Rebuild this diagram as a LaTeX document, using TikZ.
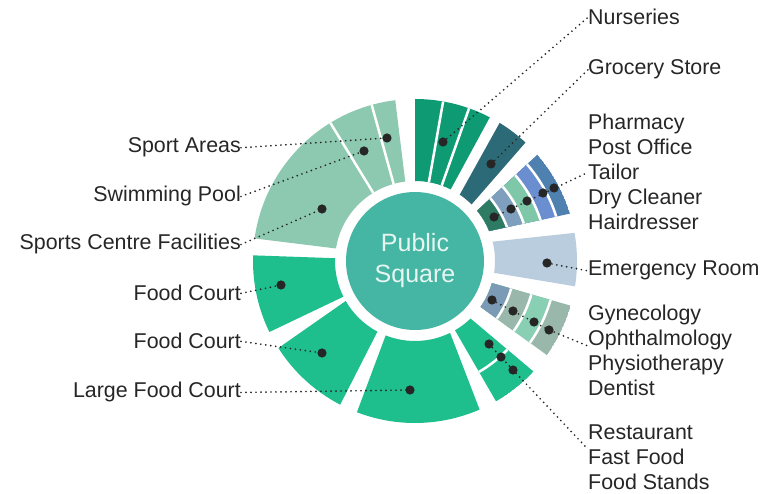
\documentclass[tikz,border=0pt]{standalone}
\usepackage{fontspec}
\setmainfont{Liberation Sans}
\usepackage{xcolor}
\usetikzlibrary{positioning}

\definecolor{sportgreen}{HTML}{8DC9B1}
\definecolor{nursgreen}{HTML}{0E9A73}
\definecolor{grocteal}{HTML}{2C6A77}
\definecolor{svdark}{HTML}{2E7B63}
\definecolor{svslate}{HTML}{7F9FBE}
\definecolor{svmint}{HTML}{7EC8A9}
\definecolor{svblue}{HTML}{6B8ED0}
\definecolor{svsteel}{HTML}{4E80B0}
\definecolor{emerblue}{HTML}{BACDDF}
\definecolor{medblue}{HTML}{7B9AB6}
\definecolor{medgray}{HTML}{9AB7AC}
\definecolor{medmint}{HTML}{89CFB4}
\definecolor{foodgreen}{HTML}{1FBE8D}
\definecolor{squareteal}{HTML}{45B6A3}
\definecolor{squaretext}{HTML}{E8F6F2}
\definecolor{labelgray}{HTML}{262626}

\newcommand{\rin}{80}
\newcommand{\rout}{162}
% ring block: inner arc #2..#3, outer arc #4..#5
\newcommand{\ringblock}[5]{%
  \fill[#1] (#2:\rin) arc[start angle=#2, end angle=#3, radius=\rin]
    -- (#5:\rout) arc[start angle=#5, end angle=#4, radius=\rout] -- cycle;}
\newcommand{\ringclip}[4]{%
  \clip (#1:\rin) arc[start angle=#1, end angle=#2, radius=\rin]
    -- (#4:\rout) arc[start angle=#4, end angle=#3, radius=\rout] -- cycle;}

\begin{document}
\begin{tikzpicture}[x=1pt, y=1pt,
    every node/.style={font=\fontsize{21.4}{25}\selectfont, text=labelgray, inner sep=0pt},
    itemtext/.style={anchor=base west},
    itemleft/.style={anchor=base east},
    leader/.style={draw=labelgray, line width=1.9pt, dash pattern=on 0pt off 5pt, line cap=round},
    divider/.style={draw=white, line width=2.5pt}]
  \useasboundingbox (-415,-233) rectangle (345,261);

  % ---------- SPORTS ----------
  \ringblock{sportgreen}{97}{171}{97}{172}
  \foreach \a in {105.5,121.5} \draw[divider] (\a:\rin) -- (\a:\rout);

  % ---------- FOOD COURTS ----------
  \ringblock{foodgreen}{178}{206.5}{178}{206}
  \ringblock{foodgreen}{210}{242}{212.5}{242.5}
  \ringblock{foodgreen}{248.5}{296}{249}{293.5}

  % ---------- FOOD STANDS ----------
  \begin{scope}
    \ringclip{-60}{-46}{-60}{-43}
    \fill[foodgreen] (0,0) circle (\rout);
    \draw[divider] (0,0) circle (128);
  \end{scope}

  % ---------- MEDICAL ----------
  \begin{scope}
    \ringclip{-35}{-16}{-35.5}{-16}
    \fill[medgray] (0,0) circle (\rout);
    \fill[medmint] (0,0) circle (141);
    \fill[medgray] (0,0) circle (121);
    \fill[medblue] (0,0) circle (100);
    \foreach \r in {100,121,141} \draw[divider] (0,0) circle (\r);
  \end{scope}

  % ---------- EMERGENCY ----------
  \ringblock{emerblue}{-8.5}{14}{-9}{10}

  % ---------- SERVICES ----------
  \begin{scope}
    \ringclip{22}{39}{17}{41}
    \fill[svsteel] (0,0) circle (\rout);
    \fill[svblue] (0,0) circle (148);
    \fill[svmint] (0,0) circle (132);
    \fill[svslate] (0,0) circle (115);
    \fill[svdark] (0,0) circle (98);
    \foreach \r in {98,115,132,148} \draw[divider] (0,0) circle (\r);
  \end{scope}

  % ---------- GROCERY + NURSERIES ----------
  \ringblock{grocteal}{45}{56}{47}{58.5}
  \ringblock{nursgreen}{63.5}{90}{62.5}{90}
  \foreach \a in {80,70.5} \draw[divider] (\a:\rin) -- (\a:\rout);

  % ---------- CENTRE ----------
  \node[circle, fill=squareteal, minimum size=138, align=center, text=squaretext,
        font=\fontsize{25}{31}\selectfont] (square) at (0,0) {Public\\Square};

  % ---------- LABELS ----------
  \node[itemtext] (nurs)   at (173,236)  {Nurseries};
  \node[itemtext] (groc)   at (173,186)  {Grocery Store};
  \node[itemtext] (pharm)  at (173,131)  {Pharmacy};
  \node[itemtext] (post)   at (173,106)  {Post Office};
  \node[itemtext] (tailor) at (173,81)   {Tailor};
  \node[itemtext] (dry)    at (173,56)   {Dry Cleaner};
  \node[itemtext] (hair)   at (173,31)   {Hairdresser};
  \node[itemtext] (emer)   at (173,-15)  {Emergency Room};
  \node[itemtext] (gyn)    at (173,-60)  {Gynecology};
  \node[itemtext] (ophth)  at (173,-85)  {Ophthalmology};
  \node[itemtext] (physio) at (173,-110) {Physiotherapy};
  \node[itemtext] (dent)   at (173,-135) {Dentist};
  \node[itemtext] (rest)   at (173,-179) {Restaurant};
  \node[itemtext] (fast)   at (173,-204) {Fast Food};
  \node[itemtext] (stands) at (173,-229) {Food Stands};

  \node[itemleft] (sportar) at (-174,108)  {Sport Areas};
  \node[itemleft] (swim)    at (-174,59)   {Swimming Pool};
  \node[itemleft] (centre)  at (-174,11)   {Sports Centre Facilities};
  \node[itemleft] (fcourta) at (-174,-40)  {Food Court};
  \node[itemleft] (fcourtb) at (-174,-88)  {Food Court};
  \node[itemleft] (largefc) at (-174,-137) {Large Food Court};

  % ---------- DOTS ----------
  \coordinate (dSportar) at (-28,123);
  \coordinate (dSwim)    at (-51,110);
  \coordinate (dCentre)  at (-93,52);
  \coordinate (dFca)     at (-134,-24);
  \coordinate (dFcb)     at (-93,-92);
  \coordinate (dLarge)   at (-5,-129);
  \coordinate (dNurs)    at (28,119);
  \coordinate (dGroc)    at (76,97);
  \coordinate (dSv1) at (79,44);
  \coordinate (dSv2) at (96,52);
  \coordinate (dSv3) at (112,60);
  \coordinate (dSv4) at (128,68);
  \coordinate (dSv5) at (139,73);
  \coordinate (dEmer)    at (132,-2);
  \coordinate (dMd1) at (77,-39);
  \coordinate (dMd2) at (98,-50);
  \coordinate (dMd3) at (119,-61);
  \coordinate (dMd4) at (134,-69);
  \coordinate (dFs1) at (74,-83);
  \coordinate (dFs2) at (86,-96);
  \coordinate (dFs3) at (98,-109);

  % ---------- LEADERS ----------
  \draw[leader] (sportar.east) -- (dSportar);
  \draw[leader] (swim.east) -- (dSwim);
  \draw[leader] (centre.east) -- (dCentre);
  \draw[leader] (fcourta.east) -- (dFca);
  \draw[leader] (fcourtb.east) -- (dFcb);
  \draw[leader] (largefc.east) -- (dLarge);
  \draw[leader] (dNurs) -- (nurs.west);
  \draw[leader] (dGroc) -- (groc.west);
  \draw[leader] (dSv1) -- (tailor.west);
  \draw[leader] (dEmer) -- (emer.west);
  \draw[leader] (dMd1) -- (dMd4) -- (ophth.base west);
  \draw[leader] (dFs1) -- (dFs3) -- (fast.north west);

  \foreach \p in {dSportar,dSwim,dCentre,dFca,dFcb,dLarge,dNurs,dGroc,
                  dSv1,dSv2,dSv3,dSv4,dSv5,dEmer,dMd1,dMd2,dMd3,dMd4,dFs1,dFs2,dFs3}
    \fill[labelgray] (\p) circle (4.6);
\end{tikzpicture}
\end{document}
